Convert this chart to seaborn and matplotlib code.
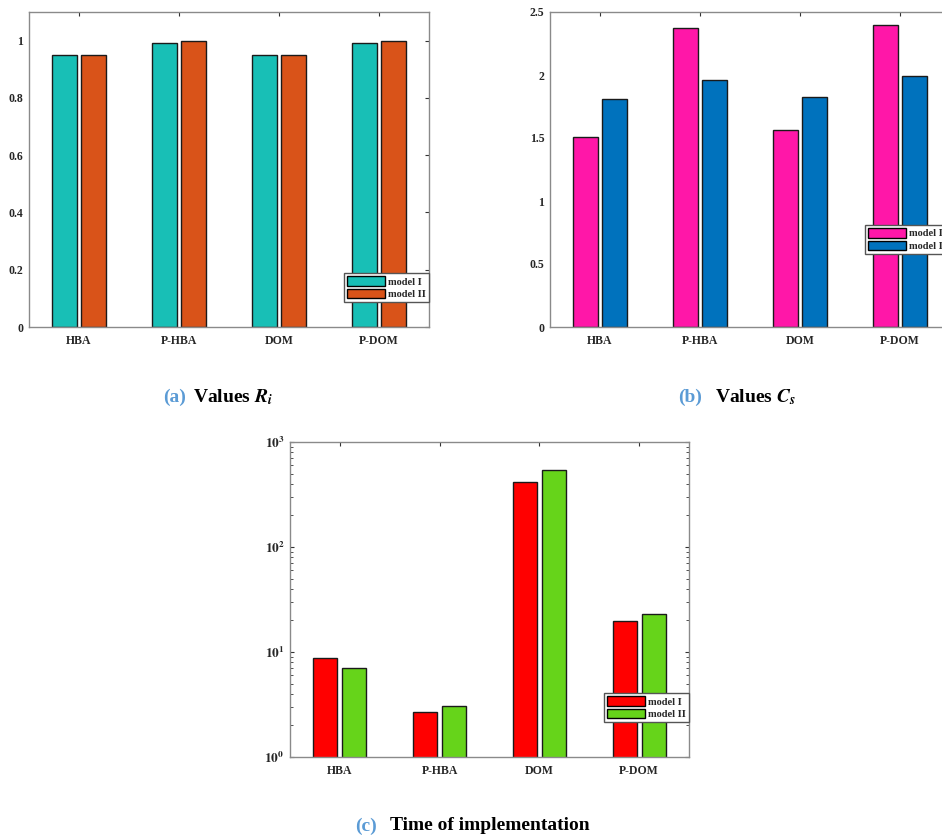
import matplotlib
matplotlib.use("Agg")
import matplotlib.pyplot as plt
import matplotlib.patches as mpatches
from matplotlib.ticker import FuncFormatter, LogLocator, NullFormatter
import pandas as pd
import seaborn as sns

# Data
methods = ["HBA", "P-HBA", "DOM", "P-DOM"]
models = ["model I", "model II"]

ri_model1 = [0.95, 0.993, 0.95, 0.993]
ri_model2 = [0.95, 1.0, 0.95, 1.0]

cs_model1 = [1.508, 2.370, 1.564, 2.394]
cs_model2 = [1.813, 1.959, 1.829, 1.991]

time_model1 = [8.8, 2.69, 415, 19.9]
time_model2 = [7.07, 3.09, 537, 22.8]

colors_a = ["#18BFB6", "#D95319"]
colors_b = ["#FF17A8", "#0072BD"]
colors_c = ["#FF0000", "#66D41A"]

sns.set_style("white")
plt.rcParams["font.family"] = ["Liberation Serif", "DejaVu Serif"]
plt.rcParams["font.weight"] = "bold"
plt.rcParams["mathtext.fontset"] = "stix"


def make_df(v1, v2):
    return pd.DataFrame({
        "method": methods * 2,
        "model": [models[0]] * 4 + [models[1]] * 4,
        "value": list(v1) + list(v2),
    })


def draw_panel(ax, df, colors, legend_y):
    sns.barplot(data=df, x="method", y="value", hue="model", palette=colors,
                saturation=1, width=0.58, gap=0.17, edgecolor="#1a1a1a", linewidth=1.0,
                legend=False, ax=ax)
    ax.set_xlim(-0.5, 3.5)
    ax.set_xlabel("")
    ax.set_ylabel("")
    for s in ax.spines.values():
        s.set_color("#8a8a8a")
        s.set_linewidth(1.0)
    ax.tick_params(axis="both", which="major", direction="in", top=True, right=True,
                   length=3, width=0.8, color="#333333", labelsize=8.5)
    ax.tick_params(axis="x", pad=6)
    ax.tick_params(axis="y", pad=4)
    for lab in ax.get_xticklabels() + ax.get_yticklabels():
        lab.set_fontweight("bold")
    handles = [mpatches.Patch(facecolor=c, edgecolor="black", linewidth=1.0, label=m)
               for c, m in zip(colors, models)]
    leg = ax.legend(handles=handles, loc="lower right", bbox_to_anchor=(1.0, legend_y),
                    borderaxespad=0, fancybox=False, framealpha=1, edgecolor="#555555",
                    prop={"size": 7.5, "weight": "bold"}, handlelength=3.6, handleheight=1.0,
                    labelspacing=0.2, borderpad=0.3, handletextpad=0.3)
    leg.get_frame().set_linewidth(1.0)


W, H = 942, 839
fig = plt.figure(figsize=(W / 100, H / 100), dpi=100)


def add_axes(x0, x1, y0, y1):
    return fig.add_axes([x0 / W, 1 - y1 / H, (x1 - x0) / W, (y1 - y0) / H])


# (a) Values R_i
ax_a = add_axes(29, 429, 12, 327)
draw_panel(ax_a, make_df(ri_model1, ri_model2), colors_a, 0.079)
ax_a.set_ylim(0, 1.1)
ax_a.set_yticks([0, 0.2, 0.4, 0.6, 0.8, 1.0])
ax_a.yaxis.set_major_formatter(FuncFormatter(lambda v, p: f"{v:g}"))

# (b) Values C_s
ax_b = add_axes(550, 950, 12, 327)
draw_panel(ax_b, make_df(cs_model1, cs_model2), colors_b, 0.232)
ax_b.set_ylim(0, 2.5)
ax_b.set_yticks([0, 0.5, 1, 1.5, 2, 2.5])
ax_b.yaxis.set_major_formatter(FuncFormatter(lambda v, p: f"{v:g}"))

# (c) Time of implementation (log axis)
ax_c = add_axes(290, 689, 442, 757)
draw_panel(ax_c, make_df(time_model1, time_model2), colors_c, 0.111)
ax_c.set_yscale("log", nonpositive="clip")
ax_c.set_ylim(1, 1000)
ax_c.set_yticks([1, 10, 100, 1000])
ax_c.set_yticklabels([r"$\mathbf{10^{0}}$", r"$\mathbf{10^{1}}$",
                      r"$\mathbf{10^{2}}$", r"$\mathbf{10^{3}}$"], fontsize=9.5)
ax_c.yaxis.set_minor_locator(LogLocator(base=10, subs=range(2, 10)))
ax_c.yaxis.set_minor_formatter(NullFormatter())
ax_c.tick_params(axis="y", which="major", direction="in", left=True, right=True,
                 length=3, width=0.8, color="#333333")
ax_c.tick_params(axis="y", which="minor", direction="in", left=True, right=True,
                 length=2, width=0.6, color="#333333")

# Captions
cap_blue = "#5B9BD5"
fig.text(163 / W, 1 - 397 / H, "(a)", color=cap_blue, fontsize=14, fontweight="bold",
         ha="left", va="center")
fig.text(193 / W, 1 - 397 / H, r"Values $R_i$", color="black", fontsize=14,
         fontweight="bold", ha="left", va="center")
fig.text(678 / W, 1 - 397 / H, "(b)", color=cap_blue, fontsize=14, fontweight="bold",
         ha="left", va="center")
fig.text(715 / W, 1 - 397 / H, r"Values $C_s$", color="black", fontsize=14,
         fontweight="bold", ha="left", va="center")
fig.text(355 / W, 1 - 826 / H, "(c)", color=cap_blue, fontsize=14, fontweight="bold",
         ha="left", va="center")
fig.text(390 / W, 1 - 826 / H, "Time of implementation", color="black", fontsize=14,
         fontweight="bold", ha="left", va="center")

fig.savefig("out.png", dpi=100)
